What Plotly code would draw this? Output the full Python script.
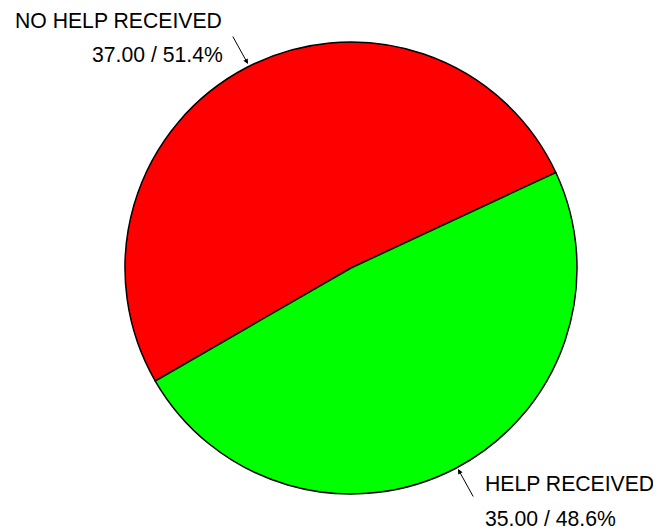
import plotly.graph_objects as go

labels = ["NO HELP RECEIVED", "HELP RECEIVED"]
values = [37.00, 35.00]
colors = ["#FF0000", "#00FF00"]

# page has an 8px body margin; size figure to fit the window
OFF = 8
W, H = 661 - OFF, 531 - OFF
total = sum(values)
pcts = [v / total * 100 for v in values]


def px(x):
    return (x - OFF) / W


def py(y):
    return 1 - (y - OFF) / H


fig = go.Figure()
fig.add_trace(go.Pie(
    labels=labels, values=values, sort=False, direction="clockwise",
    rotation=-120, textinfo="none", hoverinfo="label+value+percent",
    marker=dict(colors=colors, line=dict(color="black", width=1.5)),
    domain=dict(x=[px(125), px(577)], y=[py(494), py(42)]),
    showlegend=False,
))

font = dict(family="Liberation Sans, Arial, sans-serif", size=21.2, color="black")
ann = []
# NO HELP RECEIVED
ann.append(dict(x=px(224), y=py(20), xref="paper", yref="paper", text=labels[0],
                showarrow=False, xanchor="right", yanchor="middle", font=font))
ann.append(dict(x=px(225), y=py(55), xref="paper", yref="paper",
                text=f"{values[0]:.2f} / {pcts[0]:.1f}%",
                showarrow=False, xanchor="right", yanchor="middle", font=font))
ann.append(dict(x=px(248), y=py(64), xref="paper", yref="paper", text="",
                showarrow=True, ax=-16, ay=-29, arrowhead=2, arrowsize=1,
                arrowwidth=1, arrowcolor="black"))
# HELP RECEIVED
ann.append(dict(x=px(483), y=py(483), xref="paper", yref="paper", text=labels[1],
                showarrow=False, xanchor="left", yanchor="middle", font=font))
ann.append(dict(x=px(483), y=py(518), xref="paper", yref="paper",
                text=f"{values[1]:.2f} / {pcts[1]:.1f}%",
                showarrow=False, xanchor="left", yanchor="middle", font=font))
ann.append(dict(x=px(458), y=py(469), xref="paper", yref="paper", text="",
                showarrow=True, ax=16, ay=29, arrowhead=2, arrowsize=1,
                arrowwidth=1, arrowcolor="black"))

fig.update_layout(width=W, height=H, margin=dict(l=0, r=0, t=0, b=0),
                  paper_bgcolor="white", plot_bgcolor="white", annotations=ann)
fig.write_html("out.html")
